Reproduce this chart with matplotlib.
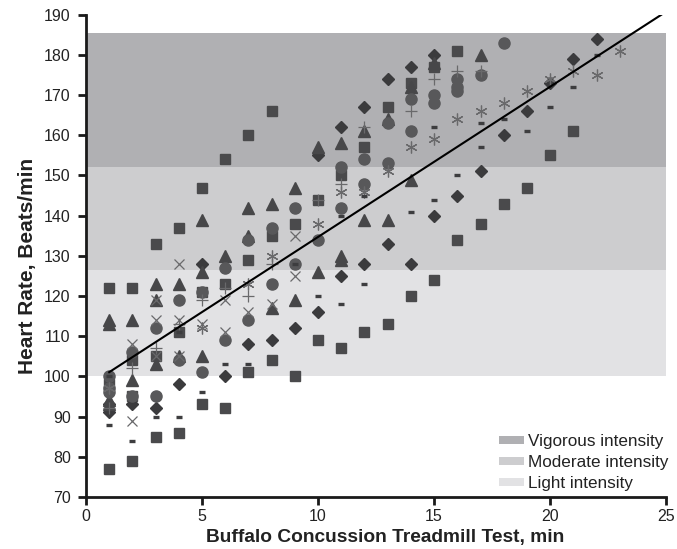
import matplotlib
matplotlib.use("Agg")
import matplotlib.pyplot as plt
from matplotlib.patches import Patch
import numpy as np

plt.rcParams['font.family'] = ['Liberation Sans', 'DejaVu Sans']

# ---- data ----
square_x = [1,1,1,2,2,2,2,3,3,3,4,4,4,5,5,5,6,6,6,7,7,7,8,8,8,9,9,10,10,11,11,12,12,13,13,14,14,15,15,16,16,17,18,19,20,21]
square_y = [122,98,77,122,104,95,79,133,105,85,137,111,86,147,121,93,154,123,92,160,129,101,166,135,104,138,100,144,109,150,107,157,111,167,113,173,120,177,124,181,134,138,143,147,155,161]

diamond_x = [1,1,2,3,4,5,6,7,8,9,10,10,11,11,12,12,13,13,14,14,15,15,16,17,18,19,20,21,22]
diamond_y = [93,91,93,92,98,128,100,108,109,112,155,116,162,125,167,128,174,133,177,128,180,140,145,151,160,166,173,179,184]

triangle_x = [1,1,1,1,2,2,3,3,3,4,4,5,5,5,6,7,7,8,8,9,9,10,10,11,11,11,12,12,13,13,14,14,15,17]
triangle_y = [114,113,94,93,114,99,123,119,103,123,105,139,126,105,130,142,135,143,117,147,119,157,126,158,130,129,161,139,164,139,172,149,178,180]

circle_x = [1,1,1,2,2,3,3,4,4,5,5,6,6,7,7,8,8,9,9,10,11,11,12,12,13,13,14,14,15,15,16,16,16,17,18]
circle_y = [100,97,96,106,95,112,95,119,104,121,101,127,109,134,114,137,123,142,128,134,152,142,154,148,163,153,169,161,170,168,174,172,171,175,183]

cross_x = [2,2,3,3,3,4,4,4,5,6,6,7,8,9,9]
cross_y = [108,89,119,114,105,128,114,105,113,119,111,116,118,135,125]

plus_x = [1,2,3,4,5,6,7,8,10,11,12,14,15,16,17]
plus_y = [92,102,107,113,119,122,120,128,144,148,162,166,174,176,176]

star_x = [1,5,7,8,10,11,12,13,14,15,16,17,18,19,20,21,22,23]
star_y = [97,112,123,130,138,146,146,151,157,159,164,166,168,171,174,176,175,181]

dash_x = [1,1,2,3,4,4,5,6,7,9,10,11,11,12,12,14,15,15,16,17,17,18,19,20,21,22]
dash_y = [100,88,84,90,111,90,96,103,103,128,120,140,118,145,123,141,162,144,150,163,157,164,161,167,172,180]

zone_labels = ["Vigorous intensity", "Moderate intensity", "Light intensity"]
zone_low = [152, 126.5, 100]
zone_high = [185.5, 152, 126.5]
zone_colors = ["#b0b0b3", "#cdcdcf", "#e2e2e4"]

fit_intercept = 97.3
fit_slope = 3.74
fit_x_start = 1

# ---- figure ----
fig = plt.figure(figsize=(6.77, 5.49), dpi=100)
ax = fig.add_axes([0.127, 0.095, 0.857, 0.878])

for lo, hi, c in zip(zone_low, zone_high, zone_colors):
    ax.axhspan(lo, hi, color=c, zorder=0, lw=0)

mk = dict(linestyle='none')
ax.plot(square_x, square_y, marker='s', ms=7, color='#4a4a4c', mec='#4a4a4c', zorder=3, **mk)
ax.plot(diamond_x, diamond_y, marker='D', ms=6, color='#3b3b3d', mec='#3b3b3d', zorder=3, **mk)
ax.plot(triangle_x, triangle_y, marker='^', ms=8, color='#474749', mec='#474749', zorder=3, **mk)
ax.plot(circle_x, circle_y, marker='o', ms=8, color='#58585a', mec='#58585a', zorder=3, **mk)
ax.plot(cross_x, cross_y, marker='x', ms=7.5, mew=0.9, color='#69696b', zorder=4, **mk)
ax.plot(plus_x, plus_y, marker='+', ms=8.5, mew=0.9, color='#69696b', zorder=4, **mk)
ax.plot(star_x, star_y, marker=(6, 2, 0), ms=8.5, mew=0.9, color='#69696b', zorder=4, **mk)
ax.plot(dash_x, dash_y, marker='_', ms=4.5, mew=2.4, color='#3d3d3f', zorder=4, **mk)

y_top = 190
fit_x_end = (y_top - fit_intercept) / fit_slope
lx = np.array([fit_x_start, fit_x_end])
ax.plot(lx, fit_intercept + fit_slope * lx, color='black', lw=1.5, zorder=5)

ax.set_xlim(0, 25)
ax.set_ylim(70, 190)
ax.set_xticks([0, 5, 10, 15, 20, 25])
ax.set_yticks(np.arange(70, 191, 10))
for s in ['top', 'right']:
    ax.spines[s].set_visible(False)
for s in ['left', 'bottom']:
    ax.spines[s].set_linewidth(2)
    ax.spines[s].set_color('#1a1a1a')
ax.tick_params(direction='out', length=6, width=2, colors='#1a1a1a', labelsize=11.5, labelcolor='#222222')
ax.tick_params(axis='x', pad=3)
ax.tick_params(axis='y', pad=5)

ax.set_xlabel("Buffalo Concussion Treadmill Test, min", fontsize=13.8, fontweight='bold', color='#222222')
ax.set_ylabel("Heart Rate, Beats/min", fontsize=15, fontweight='bold', color='#222222')
ax.xaxis.set_label_coords(0.516, -0.066)
ax.yaxis.set_label_coords(-0.085, 0.48)

handles = [Patch(facecolor=c, edgecolor='none') for c in zone_colors]
ax.legend(handles, zone_labels, loc='upper left', bbox_to_anchor=(0.712, 0.13), frameon=False,
          borderpad=0, borderaxespad=0,
          fontsize=12.3, handlelength=1.45, handleheight=0.33, handletextpad=0.25, labelspacing=0.36,
          labelcolor='#222222')

fig.savefig("out.png", dpi=100)
